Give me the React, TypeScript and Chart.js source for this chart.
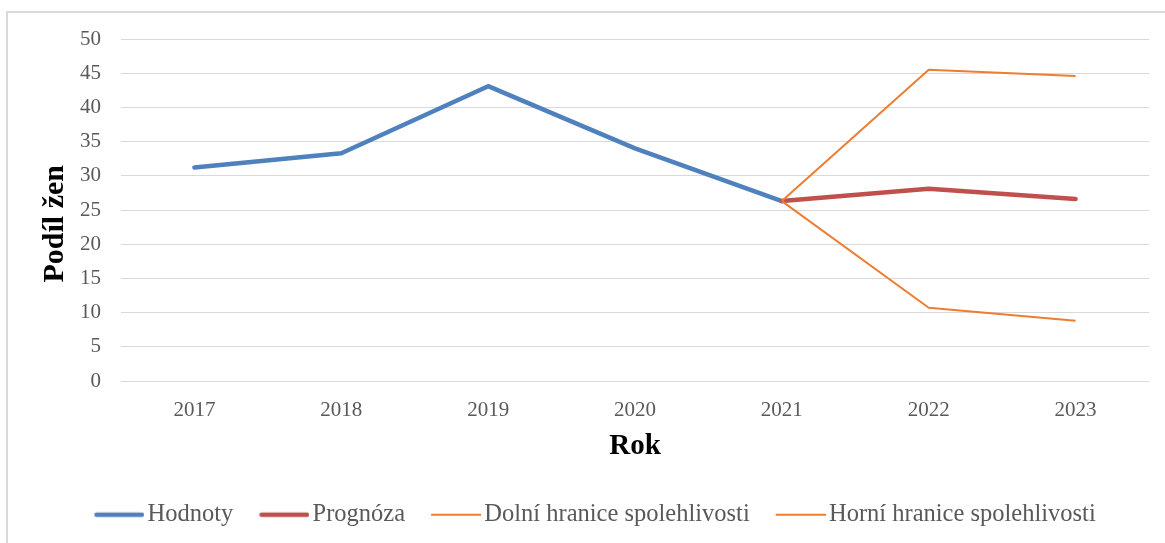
import React, { useEffect, useRef } from "react";
import { Chart, registerables } from "chart.js";

Chart.register(...registerables);

const years = ["2017", "2018", "2019", "2020", "2021", "2022", "2023"];
const hodnoty = [31.2, 33.3, 43.1, 34.0, 26.3, null, null];
const prognoza = [null, null, null, null, 26.3, 28.1, 26.6];
const dolniHranice = [null, null, null, null, 26.3, 10.7, 8.8];
const horniHranice = [null, null, null, null, 26.3, 45.5, 44.6];

const seriesNames = ["Hodnoty", "Prognóza", "Dolní hranice spolehlivosti", "Horní hranice spolehlivosti"];
const yTicksMin = 0;
const yTicksMax = 50;
const yTicksStep = 5;

const BLUE = "#4f81bd";
const RED = "#c0504d";
const ORANGE = "#ed7d31";
const FONT = "'Liberation Serif', 'Times New Roman', serif";

function legendImage(color: string, width: number) {
  const c = document.createElement("canvas");
  c.width = 59;
  c.height = 8;
  const ctx = c.getContext("2d")!;
  ctx.strokeStyle = color;
  ctx.lineWidth = width;
  ctx.lineCap = width > 3 ? "round" : "butt";
  ctx.beginPath();
  const inset = width > 3 ? width / 2 : 0;
  ctx.moveTo(9 + inset, 4);
  ctx.lineTo(59 - inset, 4);
  ctx.stroke();
  return c;
}

export default function App() {
  const ref = useRef<HTMLCanvasElement | null>(null);

  useEffect(() => {
    if (!ref.current) return;
    const images = [
      legendImage(BLUE, 4.5),
      legendImage(RED, 4.5),
      legendImage(ORANGE, 2),
      legendImage(ORANGE, 2),
    ];
    const chart = new Chart(ref.current, {
      type: "line",
      data: {
        labels: years,
        datasets: [
          { label: seriesNames[0], data: hodnoty, borderColor: BLUE, backgroundColor: BLUE, borderWidth: 4.5, order: 3, borderCapStyle: "round", borderJoinStyle: "round" },
          { label: seriesNames[1], data: prognoza, borderColor: RED, backgroundColor: RED, borderWidth: 4.5, order: 2, borderCapStyle: "round", borderJoinStyle: "round" },
          { label: seriesNames[2], data: dolniHranice, borderColor: ORANGE, backgroundColor: ORANGE, borderWidth: 2, order: 1, borderJoinStyle: "round" },
          { label: seriesNames[3], data: horniHranice, borderColor: ORANGE, backgroundColor: ORANGE, borderWidth: 2, order: 0, borderJoinStyle: "round" },
        ],
      },
      options: {
        responsive: false,
        animation: false,
        layout: { padding: { top: 26, left: 0, right: 0, bottom: 0 } },
        elements: { point: { radius: 0, hoverRadius: 0 }, line: { tension: 0 } },
        plugins: {
          tooltip: { enabled: false },
          legend: {
            position: "bottom",
            labels: {
              usePointStyle: true,
              pointStyleWidth: 41,
              padding: 26,
              color: "#595959",
              font: { family: FONT, size: 24.5 },
              generateLabels: (ch: any) => {
                const base = Chart.defaults.plugins.legend.labels.generateLabels(ch);
                return base
                  .sort((a: any, b: any) => a.datasetIndex - b.datasetIndex)
                  .map((l: any) => ({ ...l, pointStyle: images[l.datasetIndex], lineWidth: 0 }));
              },
            },
          },
        },
        scales: {
          x: {
            type: "category",
            offset: true,
            grid: { display: false, drawTicks: false },
            border: { display: false },
            ticks: { color: "#595959", font: { family: FONT, size: 21 }, padding: 17, maxRotation: 0 },
            title: { display: true, text: "Rok", color: "#000", font: { family: FONT, size: 29, weight: "bold" }, padding: { top: 0, bottom: 12.5 } },
            afterFit: (s: any) => { s.height = 95.5; },
          },
          y: {
            min: yTicksMin,
            max: yTicksMax,
            position: "left",
            grid: { color: "#d9d9d9", lineWidth: 1, drawTicks: true, tickLength: 20, tickColor: "rgba(0,0,0,0)" },
            border: { display: false },
            ticks: { stepSize: yTicksStep, color: "#595959", font: { family: FONT, size: 21 }, padding: 0 },
            title: { display: true, text: "Podíl žen\u00a0\u00a0\u00a0\u2006", color: "#000", font: { family: FONT, size: 30, weight: "bold" }, padding: { top: 29.5, bottom: 0 } },
            afterFit: (s: any) => { s.width = 113; },
          },
          yR: {
            type: "linear",
            position: "right",
            display: true,
            grid: { display: false, drawTicks: false },
            border: { display: false },
            ticks: { display: false },
            afterFit: (s: any) => { s.width = 33; },
          },
        },
      } as any,
    });
    return () => chart.destroy();
  }, []);

  return (
    <div style={{ position: "fixed", left: 0, top: 0, width: 1165, height: 543, overflow: "hidden", background: "#fff" }}>
      <div style={{ position: "absolute", left: 6, top: 11, width: 1300, height: 700, border: "2px solid #d9d9d9", boxSizing: "border-box" }} />
      <canvas ref={ref} width={1174} height={524} style={{ position: "absolute", left: 8, top: 13, width: 1174, height: 524 }} />
    </div>
  );
}
